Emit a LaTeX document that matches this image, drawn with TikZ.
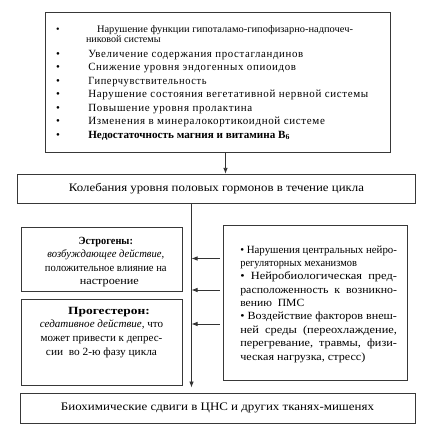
\documentclass[tikz,border=0pt]{standalone}
\usepackage{fontspec}
\setmainfont{Liberation Serif}
\newfontfamily\spc{Liberation Serif}[LetterSpace=6]
\usetikzlibrary{arrows.meta}
\tikzset{
 box/.style={draw=black!78, line width=0.9pt, inner sep=0pt, fill=white},
 arr/.style={draw=black!80, line width=0.8pt, -{Latex[length=6pt,width=4.5pt]}},
}
% horizontally fit a text to a width
\newcommand\fw[2]{\resizebox{#1pt}{\height}{#2}}
\newcommand\bul{\makebox[42.8pt][l]{\hspace*{10.5pt}\textbullet}}
\begin{document}
\begin{tikzpicture}[x=1pt,y=-1pt]
\useasboundingbox[fill=white] (0,0) rectangle (434,434);
% top box
\node[box] (tbox) at (218.1,82.4) {\parbox[c][140.2pt][t]{345.2pt}{\vspace*{13pt}\raggedright
{\fontsize{10}{10}\selectfont \bul\hspace*{8.7pt}\fw{256}{Нарушение функции гипоталамо-гипофизарно-надпочеч-}\\ \hspace*{40.5pt}\fw{74.7}{никовой системы}\par}
\vspace{1.5pt}
{\fontsize{11}{13.5}\selectfont\spc
\bul\fw{215}{Увеличение содержания простагландинов}\\
\bul\fw{207.7}{Снижение уровня эндогенных опиоидов}\\
\bul\fw{118.3}{Гиперчувствительность}\\
\bul\fw{280}{Нарушение состояния вегетативной нервной системы}\\
\bul\fw{164}{Повышение уровня пролактина}\\
\bul\fw{236.7}{Изменения в минералокортикоидной системе}\\
\bul\fw{201.7}{\rmfamily\bfseries Недостаточность магния и витамина B\textsubscript{6}}\par}
}};
% second box
\node[box] (hbox) at (216.5,188.8) {\parbox[c][29pt][c]{398.4pt}{\centering\fontsize{11.5}{14}\selectfont \fw{295}{Колебания уровня половых гормонов в течение цикла}}};
% estrogen box
\node[box] (ebox) at (101.85,259.35) {\parbox[c][63.3pt][c]{161.7pt}{\vspace*{5pt}\hspace*{8pt}\parbox{153.7pt}{\centering\fontsize{11}{13.4}\selectfont
\fw{54.3}{\bfseries Эстрогены:}\\
\fw{116.7}{\itshape возбуждающее действие,}\\
\fw{121.7}{положительное влияние на}\\
\hspace*{7pt}\fw{59}{настроение}}}};
% progesterone box
\node[box] (pbox) at (101.5,342) {\parbox[c][86pt][t]{161pt}{\vspace*{8pt}\centering\fontsize{11}{13.6}\selectfont
\hspace*{15pt}\fw{81.7}{\bfseries Прогестерон:}\\
\fw{123.3}{{\itshape седативное действие,} что}\\
\fw{121.7}{может привести к депрес-}\\
\fw{111}{сии\ \ во 2-ю фазу цикла}}};
% right box
\node[box] (rbox) at (315.15,302.85) {\parbox[c][154.3pt][t]{183.7pt}{\vspace*{20pt}\hspace*{17pt}\parbox[t]{157pt}{\fontsize{11}{13.35}\selectfont
\fw{156.7}{\textbullet\ Нарушения центральных нейро-}\\
\fw{116.7}{регуляторных механизмов}\\
\fw{156.7}{\textbullet\ \ Нейробиологическая\ \ пред-}\\
\fw{156.7}{расположенность\ \ к\ \ возникно-}\\
\fw{64}{вению\ \ ПМС}\\
\fw{156.7}{\textbullet\ Воздействие факторов внеш-}\\
\fw{156.7}{ней\ \ среды\ \ (переохлаждение,}\\
\fw{156.7}{перегревание,\ \ травмы,\ \ физи-}\\
\fw{125}{ческая нагрузка, стресс)}}}};
% bottom box
\node[box] (bbox) at (217.5,408) {\parbox[c][30pt][c]{395pt}{\centering\fontsize{11.5}{14}\selectfont \fw{313}{Биохимические сдвиги в ЦНС и других тканях-мишенях}}};
% connectors
\coordinate (tx) at (225.5,0);
\coordinate (vx) at (191.5,0);
\coordinate (a1) at (0,258.5);
\coordinate (a2) at (0,290);
\coordinate (a3) at (0,324);
\draw[arr] (tbox.south -| tx) -- (hbox.north -| tx);
\draw[arr, shorten >=5pt] (hbox.south -| vx) -- (bbox.north -| vx);
\draw[arr, shorten <=3pt] (rbox.west |- a1) -- (vx |- a1);
\draw[arr, shorten <=3pt] (rbox.west |- a2) -- (vx |- a2);
\draw[arr, shorten <=3pt] (rbox.west |- a3) -- (vx |- a3);
\end{tikzpicture}
\end{document}
